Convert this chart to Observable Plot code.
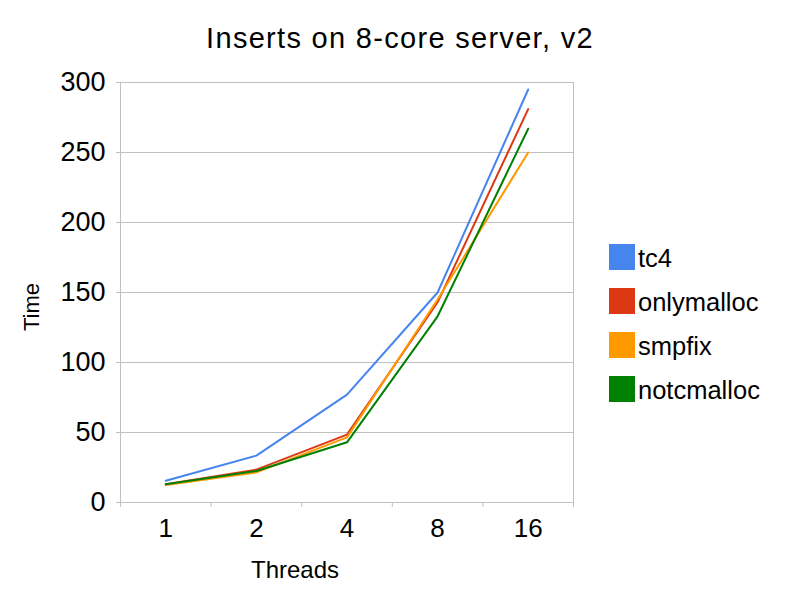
<!DOCTYPE html>
<html>
<head>
<meta charset="utf-8">
<script src="https://cdn.jsdelivr.net/npm/d3@7"></script>
<script src="https://cdn.jsdelivr.net/npm/@observablehq/plot@0.6"></script>
<style>
  html, body { margin: 0; padding: 0; background: #fff; }
  #wrap { position: relative; width: 800px; height: 600px; font-family: "Liberation Sans", Arial, sans-serif; color: #000; }
  #chart { position: absolute; left: 0; top: 0; z-index: 0; }
  .title { position: absolute; z-index: 1; left: 0; width: 800px; top: 24px; text-align: center; font-size: 29px; line-height: 29px; letter-spacing: 1.3px; }
  .xlabel { position: absolute; z-index: 1; left: 195px; width: 200px; top: 558px; text-align: center; font-size: 24px; line-height: 24px; }
  .ylabel { position: absolute; z-index: 1; left: 32px; top: 307px; font-size: 22px; line-height: 22px; transform: translate(-50%, -50%) rotate(-90deg); white-space: nowrap; }
  .legend { position: absolute; z-index: 1; left: 609px; top: 244px; }
  .item { position: relative; height: 44px; }
  .sw { position: absolute; left: 0; top: 0; width: 26px; height: 26px; }
  .lab { position: absolute; left: 29px; top: 1px; font-size: 25.5px; line-height: 26px; white-space: nowrap; }
</style>
</head>
<body>
<div id="wrap">
  <div id="chart"></div>
  <div class="title">Inserts on 8-core server, v2</div>
  <div class="xlabel">Threads</div>
  <div class="ylabel">Time</div>
  <div class="legend" id="legend"></div>
</div>
<script>
const threads = ["1", "2", "4", "8", "16"];
const seriesNames = ["tc4", "onlymalloc", "smpfix", "notcmalloc"];
const seriesColors = ["#4684ee", "#dc3912", "#ff9900", "#008000"];
const tc4 = [15.5, 33.5, 77, 150, 295];
const onlymalloc = [13, 23.5, 48.5, 143, 281];
const smpfix = [12.5, 21.5, 46.5, 145, 250];
const notcmalloc = [13, 22.5, 43, 133, 267];
const yTicks = [0, 50, 100, 150, 200, 250, 300];

const seriesValues = [tc4, onlymalloc, smpfix, notcmalloc];
const rows = [];
seriesNames.forEach((name, s) => {
  seriesValues[s].forEach((v, i) => rows.push({series: name, idx: i, value: v}));
});
const boundaries = d3.range(threads.length + 1).map(i => i - 0.5);
const centers = d3.range(threads.length);

const plot = Plot.plot({
  width: 800,
  height: 600,
  marginLeft: 120,
  marginRight: 227,
  marginTop: 82,
  marginBottom: 98,
  style: {fontFamily: "Liberation Sans, Arial, sans-serif", background: "transparent", color: "#000"},
  x: {type: "linear", domain: [-0.5, threads.length - 0.5], axis: null},
  y: {domain: [0, 300], axis: null},
  color: {domain: seriesNames, range: seriesColors},
  marks: [
    Plot.gridY(yTicks, {stroke: "#c0c0c0", strokeOpacity: 1}),
    Plot.frame({stroke: "#c0c0c0"}),
    Plot.axisY(yTicks, {tickSize: 4, tickPadding: 11, fontSize: 27, stroke: "#c0c0c0", fill: "#000", label: null}),
    Plot.axisX(boundaries, {tickSize: 5, tickFormat: () => "", stroke: "#c0c0c0", label: null}),
    Plot.axisX(centers, {tickSize: 0, tickPadding: 16, fontSize: 26, tickFormat: i => threads[i], fill: "#000", label: null}),
    Plot.line(rows, {x: "idx", y: "value", z: "series", stroke: "series", strokeWidth: 2, curve: "linear"})
  ]
});
document.getElementById("chart").appendChild(plot);

const legend = document.getElementById("legend");
seriesNames.forEach((name, i) => {
  const item = document.createElement("div");
  item.className = "item";
  item.innerHTML = `<div class="sw" style="background:${seriesColors[i]}"></div><div class="lab">${name}</div>`;
  legend.appendChild(item);
});
</script>
</body>
</html>
